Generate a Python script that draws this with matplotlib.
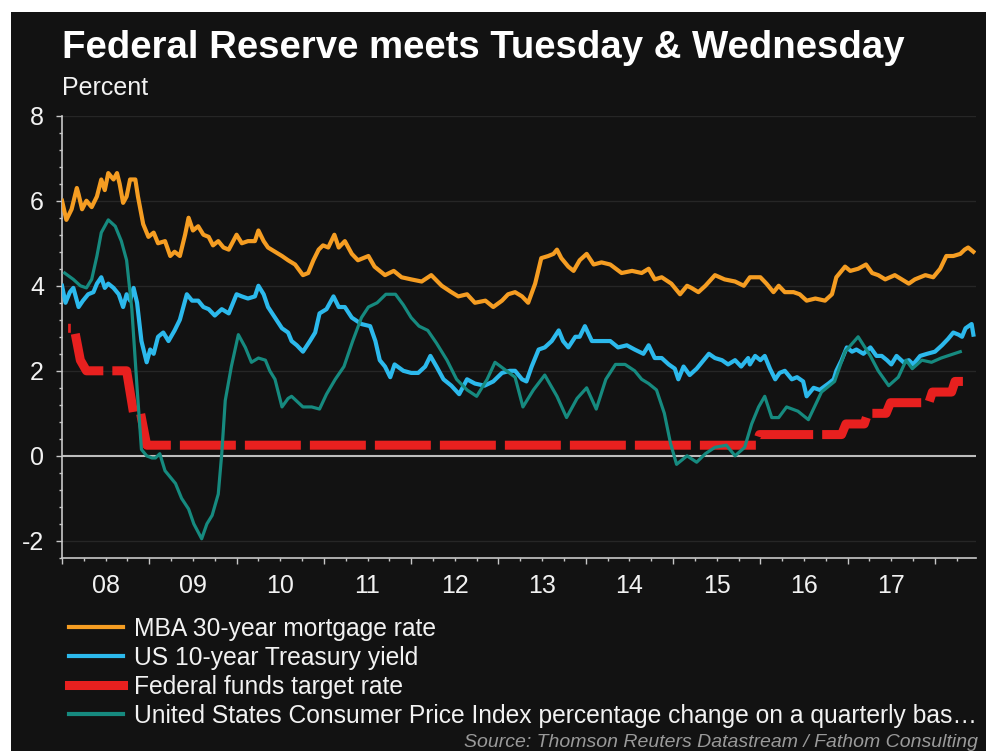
import numpy as np
import matplotlib
matplotlib.use("Agg")
import matplotlib.pyplot as plt
from matplotlib.lines import Line2D
from matplotlib.patches import Rectangle
import matplotlib.transforms as mtransforms

plt.rcParams['font.family'] = ['Liberation Sans', 'DejaVu Sans']
plt.rcParams['axes.unicode_minus'] = False

# ---- data (decimal years, percent) ----
mba_t = [2008.00, 2008.05, 2008.11, 2008.17, 2008.19, 2008.23, 2008.28, 2008.34, 2008.40, 2008.45,
         2008.49, 2008.53, 2008.59, 2008.63, 2008.66, 2008.70, 2008.74, 2008.78, 2008.84, 2008.87,
         2008.93, 2008.99, 2009.05, 2009.10, 2009.18, 2009.24, 2009.29, 2009.35, 2009.41, 2009.45,
         2009.50, 2009.56, 2009.62, 2009.68, 2009.73, 2009.79, 2009.85, 2009.91, 2010.00, 2010.06,
         2010.13, 2010.21, 2010.25, 2010.31, 2010.36, 2010.44, 2010.52, 2010.59, 2010.67, 2010.76,
         2010.82, 2010.88, 2010.94, 2010.99, 2011.05, 2011.12, 2011.17, 2011.24, 2011.32, 2011.39,
         2011.51, 2011.58, 2011.70, 2011.80, 2011.89, 2012.00, 2012.12, 2012.23, 2012.35, 2012.46,
         2012.54, 2012.64, 2012.73, 2012.85, 2012.94, 2013.04, 2013.11, 2013.19, 2013.27, 2013.34,
         2013.42, 2013.49, 2013.57, 2013.63, 2013.67, 2013.72, 2013.80, 2013.86, 2013.93, 2014.01,
         2014.09, 2014.18, 2014.28, 2014.41, 2014.53, 2014.64, 2014.72, 2014.79, 2014.87, 2014.98,
         2015.08, 2015.16, 2015.21, 2015.29, 2015.37, 2015.48, 2015.59, 2015.71, 2015.81, 2015.88,
         2016.00, 2016.07, 2016.15, 2016.21, 2016.28, 2016.38, 2016.45, 2016.53, 2016.63, 2016.74,
         2016.82, 2016.87, 2016.97, 2017.03, 2017.12, 2017.21, 2017.28, 2017.35, 2017.43, 2017.54,
         2017.62, 2017.70, 2017.77, 2017.89, 2017.98, 2018.06, 2018.13, 2018.21, 2018.29, 2018.34,
         2018.38, 2018.44]
mba_v = [6.00, 5.55, 5.80, 6.30, 6.15, 5.80, 6.00, 5.85, 6.10, 6.50,
         6.25, 6.65, 6.50, 6.65, 6.40, 5.95, 6.10, 6.50, 6.50, 6.10,
         5.45, 5.15, 5.25, 5.00, 5.05, 4.70, 4.80, 4.70, 5.20, 5.60,
         5.30, 5.40, 5.20, 5.15, 4.95, 5.05, 4.90, 4.85, 5.20, 5.00,
         5.05, 5.05, 5.30, 5.05, 4.90, 4.80, 4.70, 4.60, 4.50, 4.25,
         4.30, 4.60, 4.85, 4.95, 4.90, 5.20, 4.90, 5.05, 4.75, 4.60,
         4.70, 4.45, 4.25, 4.35, 4.20, 4.15, 4.10, 4.25, 4.00, 3.85,
         3.75, 3.80, 3.60, 3.65, 3.50, 3.65, 3.80, 3.85, 3.75, 3.60,
         4.05, 4.65, 4.70, 4.75, 4.85, 4.65, 4.45, 4.35, 4.60, 4.75,
         4.50, 4.55, 4.50, 4.30, 4.35, 4.30, 4.40, 4.15, 4.20, 4.05,
         3.80, 4.00, 3.95, 3.85, 4.00, 4.25, 4.15, 4.10, 4.00, 4.20,
         4.20, 4.05, 3.85, 4.00, 3.85, 3.85, 3.80, 3.65, 3.70, 3.65,
         3.80, 4.20, 4.45, 4.35, 4.40, 4.50, 4.30, 4.25, 4.15, 4.25,
         4.15, 4.05, 4.15, 4.25, 4.20, 4.40, 4.70, 4.70, 4.75, 4.85,
         4.90, 4.80]

ust_t = [2008.00, 2008.04, 2008.09, 2008.13, 2008.19, 2008.24, 2008.30, 2008.36, 2008.40, 2008.45,
         2008.49, 2008.53, 2008.59, 2008.65, 2008.70, 2008.74, 2008.78, 2008.82, 2008.86, 2008.91,
         2008.97, 2009.01, 2009.05, 2009.10, 2009.16, 2009.22, 2009.29, 2009.35, 2009.43, 2009.49,
         2009.56, 2009.62, 2009.68, 2009.75, 2009.83, 2009.91, 2010.00, 2010.06, 2010.13, 2010.21,
         2010.25, 2010.31, 2010.36, 2010.44, 2010.52, 2010.59, 2010.63, 2010.69, 2010.76, 2010.84,
         2010.90, 2010.95, 2011.03, 2011.11, 2011.17, 2011.24, 2011.32, 2011.43, 2011.53, 2011.59,
         2011.64, 2011.70, 2011.76, 2011.81, 2011.91, 2012.00, 2012.08, 2012.16, 2012.22, 2012.29,
         2012.37, 2012.46, 2012.55, 2012.64, 2012.73, 2012.84, 2012.94, 2013.04, 2013.13, 2013.19,
         2013.27, 2013.32, 2013.38, 2013.46, 2013.53, 2013.61, 2013.69, 2013.74, 2013.80, 2013.88,
         2013.93, 2013.99, 2014.07, 2014.18, 2014.28, 2014.37, 2014.47, 2014.56, 2014.66, 2014.72,
         2014.79, 2014.87, 2014.95, 2015.02, 2015.06, 2015.12, 2015.19, 2015.27, 2015.35, 2015.41,
         2015.48, 2015.56, 2015.63, 2015.71, 2015.78, 2015.86, 2015.88, 2015.94, 2016.00, 2016.05,
         2016.11, 2016.17, 2016.22, 2016.28, 2016.36, 2016.42, 2016.49, 2016.53, 2016.61, 2016.68,
         2016.78, 2016.84, 2016.87, 2016.93, 2016.99, 2017.05, 2017.10, 2017.18, 2017.26, 2017.33,
         2017.39, 2017.45, 2017.50, 2017.56, 2017.64, 2017.70, 2017.75, 2017.83, 2017.91, 2018.00,
         2018.08, 2018.15, 2018.21, 2018.27, 2018.31, 2018.35, 2018.42, 2018.44]
ust_v = [4.00, 3.60, 3.85, 3.95, 3.50, 3.65, 3.80, 3.85, 4.05, 4.20,
         3.95, 4.05, 3.95, 3.80, 3.50, 3.80, 3.65, 3.95, 3.60, 2.70,
         2.20, 2.50, 2.40, 2.80, 2.90, 2.70, 2.95, 3.20, 3.80, 3.65,
         3.65, 3.50, 3.45, 3.30, 3.45, 3.35, 3.80, 3.75, 3.70, 3.75,
         4.00, 3.80, 3.50, 3.25, 3.00, 2.90, 2.70, 2.60, 2.45, 2.70,
         2.90, 3.35, 3.45, 3.75, 3.50, 3.50, 3.25, 3.10, 3.05, 2.70,
         2.25, 2.10, 1.85, 2.15, 2.00, 1.95, 1.95, 2.10, 2.35, 2.10,
         1.80, 1.65, 1.45, 1.80, 1.70, 1.65, 1.75, 1.95, 2.00, 2.00,
         1.80, 1.75, 2.10, 2.50, 2.55, 2.70, 2.95, 2.70, 2.55, 2.80,
         2.80, 3.05, 2.70, 2.70, 2.70, 2.55, 2.60, 2.50, 2.40, 2.60,
         2.30, 2.30, 2.15, 2.05, 1.80, 2.10, 1.90, 2.05, 2.25, 2.40,
         2.30, 2.25, 2.15, 2.25, 2.10, 2.30, 2.15, 2.35, 2.25, 2.35,
         2.05, 1.80, 1.95, 2.00, 1.80, 1.85, 1.75, 1.40, 1.60, 1.55,
         1.70, 1.80, 2.00, 2.25, 2.55, 2.45, 2.50, 2.40, 2.55, 2.35,
         2.35, 2.25, 2.15, 2.35, 2.20, 2.25, 2.15, 2.35, 2.40, 2.45,
         2.60, 2.75, 2.90, 2.85, 2.80, 3.00, 3.10, 2.85]

cpi_t = [2008.03, 2008.13, 2008.21, 2008.28, 2008.34, 2008.40, 2008.45, 2008.53, 2008.61, 2008.68,
         2008.74, 2008.80, 2008.86, 2008.91, 2008.97, 2009.03, 2009.07, 2009.12, 2009.18, 2009.24,
         2009.30, 2009.37, 2009.45, 2009.51, 2009.60, 2009.66, 2009.72, 2009.79, 2009.83, 2009.87,
         2009.94, 2010.02, 2010.10, 2010.17, 2010.25, 2010.33, 2010.38, 2010.44, 2010.52, 2010.59,
         2010.63, 2010.76, 2010.86, 2010.95, 2011.03, 2011.13, 2011.23, 2011.33, 2011.43, 2011.51,
         2011.61, 2011.71, 2011.82, 2011.91, 2012.00, 2012.09, 2012.19, 2012.29, 2012.41, 2012.52,
         2012.64, 2012.75, 2012.87, 2012.96, 2013.19, 2013.28, 2013.40, 2013.53, 2013.67, 2013.78,
         2013.90, 2014.01, 2014.12, 2014.23, 2014.34, 2014.45, 2014.56, 2014.64, 2014.72, 2014.81,
         2014.90, 2014.97, 2015.04, 2015.16, 2015.27, 2015.37, 2015.48, 2015.61, 2015.71, 2015.82,
         2015.90, 2015.98, 2016.05, 2016.13, 2016.21, 2016.30, 2016.43, 2016.55, 2016.70, 2016.85,
         2016.97, 2017.12, 2017.26, 2017.35, 2017.47, 2017.58, 2017.67, 2017.74, 2017.85, 2017.96,
         2018.07, 2018.29]
cpi_v = [4.30, 4.15, 4.00, 3.95, 4.15, 4.70, 5.25, 5.55, 5.40, 5.05,
         4.60, 3.45, 1.60, 0.15, 0.00, -0.05, -0.05, 0.05, -0.35, -0.50,
         -0.65, -1.00, -1.25, -1.60, -1.95, -1.60, -1.40, -0.90, 0.05, 1.30,
         2.10, 2.85, 2.55, 2.20, 2.30, 2.25, 2.00, 1.80, 1.15, 1.35,
         1.40, 1.15, 1.15, 1.10, 1.45, 1.80, 2.10, 2.70, 3.25, 3.50,
         3.60, 3.80, 3.80, 3.55, 3.25, 3.05, 2.95, 2.65, 2.25, 1.80,
         1.55, 1.40, 1.80, 2.20, 1.85, 1.15, 1.55, 1.90, 1.40, 0.90,
         1.35, 1.60, 1.10, 1.80, 2.15, 2.15, 2.00, 1.80, 1.70, 1.55,
         1.00, 0.30, -0.20, 0.00, -0.15, 0.05, 0.20, 0.25, 0.00, 0.20,
         0.75, 1.15, 1.40, 0.90, 0.90, 1.15, 1.05, 0.85, 1.50, 1.75,
         2.45, 2.80, 2.35, 2.00, 1.65, 1.85, 2.25, 2.05, 2.25, 2.20,
         2.30, 2.45]

ffr_t = [2008.07, 2008.14, 2008.21, 2008.28, 2008.74, 2008.78, 2008.82, 2008.90, 2008.97,
         2015.95, 2015.99, 2016.93, 2016.98, 2017.19, 2017.23, 2017.44, 2017.49, 2017.93,
         2017.97, 2018.19, 2018.23, 2018.32]
ffr_v = [3.00, 3.00, 2.25, 2.00, 2.00, 1.50, 1.00, 1.00, 0.25,
         0.25, 0.50, 0.50, 0.75, 0.75, 1.00, 1.00, 1.25, 1.25,
         1.50, 1.50, 1.75, 1.75]

year_labels = ['08', '09', '10', '11', '12', '13', '14', '15', '16', '17']
series_names = ['MBA 30-year mortgage rate', 'US 10-year Treasury yield',
                'Federal funds target rate',
                'United States Consumer Price Index percentage change on a quarterly bas\u2026']

bg = '#121212'
c_mba = '#f59d22'
c_ust = '#2cb9ec'
c_ffr = '#e8201f'
c_cpi = '#168a7f'
axis_c = '#c8c8c8'

fig = plt.figure(figsize=(9.86, 7.51), dpi=100, facecolor='white')
fig.add_artist(Rectangle((11/986, 0), 1 - 11/986, 1 - 12/751,
                         transform=fig.transFigure, facecolor=bg, edgecolor='none', zorder=0))

ax = fig.add_axes([62/986, 1 - 558.3/751, (976 - 62)/986, (558.3 - 115.7)/751])
ax.set_facecolor(bg)
ax.set_xlim(2008.0, 2018.47)
ax.set_ylim(-2.41, 8.0)

for y in [-2, 2, 4, 6, 8]:
    ax.axhline(y, color='#262626', lw=1, zorder=1)
ax.axhline(0, color='#bdbdbd', lw=1.5, zorder=2)

ax.plot(mba_t, mba_v, color=c_mba, lw=3, zorder=4, solid_joinstyle='round')
ax.plot(ust_t, ust_v, color=c_ust, lw=3, zorder=4, solid_joinstyle='round')
ax.plot(ffr_t, ffr_v, color=c_ffr, lw=6.5, linestyle=(5.9, (6.2, 1.0)), zorder=3)
ax.plot(cpi_t, cpi_v, color=c_cpi, lw=2.3, zorder=5)

for s in ['top', 'right']:
    ax.spines[s].set_visible(False)
for s in ['left', 'bottom']:
    ax.spines[s].set_color(axis_c)
    ax.spines[s].set_linewidth(1.2)

ax.set_yticks([-2, 0, 2, 4, 6, 8])
ax.set_yticks(np.arange(-2.4, 8.0, 0.4), minor=True)
ax.set_xticks(np.arange(2008, 2019))
ax.set_xticks(np.arange(2008, 2018.5, 0.25), minor=True)
ax.set_xticklabels([])
ax.tick_params(which='major', length=4, width=1, color=axis_c, direction='out')
ax.tick_params(which='minor', length=2.5, width=1, color=axis_c, direction='out')
ax.tick_params(axis='y', labelsize=18, labelcolor='#f2f2f2', pad=9)

trans = mtransforms.blended_transform_factory(ax.transData, ax.transAxes)
for i, lab in enumerate(year_labels):
    ax.text(2008.5 + i, -0.062, lab, transform=trans, ha='center', va='center',
            fontsize=18, color='#f2f2f2')

fig.text(62/986, 1 - 58/751, 'Federal Reserve meets Tuesday & Wednesday', fontsize=27.6,
         fontweight='bold', color='white', ha='left', va='baseline')
fig.text(62/986, 1 - 95/751, 'Percent', fontsize=18, color='#f2f2f2', ha='left', va='baseline')

handles = [Line2D([], [], color=c_mba, lw=3),
           Line2D([], [], color=c_ust, lw=3),
           Line2D([], [], color=c_ffr, lw=6.5),
           Line2D([], [], color=c_cpi, lw=3)]
leg = fig.legend(handles, series_names, loc='upper left', bbox_to_anchor=(69/986, 1 - 617/751),
                 frameon=False, fontsize=17.7, handlelength=2.2, handletextpad=0.45,
                 labelspacing=0.2, borderaxespad=0, borderpad=0)
for t in leg.get_texts():
    t.set_color('#f2f2f2')

fig.text(978/986, 1 - 747/751, 'Source: Thomson Reuters Datastream / Fathom Consulting',
         fontsize=14, style='italic', color='#9a9a9a', ha='right', va='baseline')

fig.savefig('out.png', dpi=100, facecolor=fig.get_facecolor())
